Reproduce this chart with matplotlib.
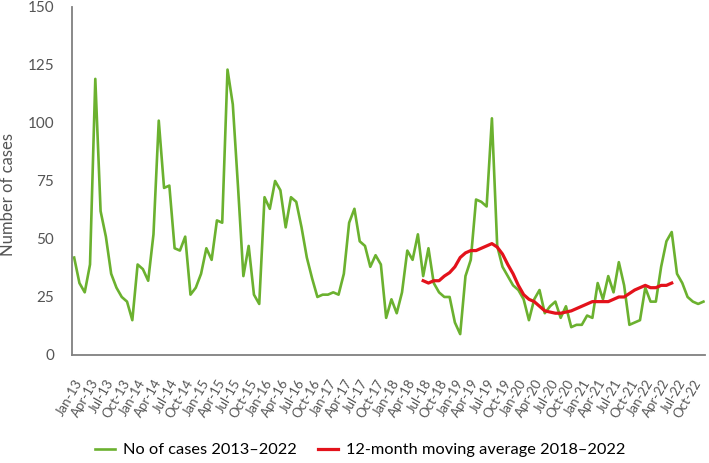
import pandas as pd
import numpy as np
import matplotlib
matplotlib.use('Agg')
import matplotlib.pyplot as plt

plt.rcParams['font.family'] = ['Lato', 'DejaVu Sans']

# monthly case counts Jan 2013 - Dec 2022
cases = [42, 31, 27, 39, 119, 62, 51, 35, 29, 25, 23, 15,
         39, 37, 32, 52, 101, 72, 73, 46, 45, 51, 26, 29,
         35, 46, 41, 58, 57, 123, 108, 72, 34, 47, 26, 22,
         68, 63, 75, 71, 55, 68, 66, 55, 42, 33, 25, 26,
         26, 27, 26, 35, 57, 63, 49, 47, 38, 43, 39, 16,
         24, 18, 27, 45, 41, 52, 34, 46, 31, 27, 25, 25,
         14, 9, 34, 41, 67, 66, 64, 102, 47, 38, 34, 30,
         28, 24, 15, 24, 28, 18, 21, 23, 16, 21, 12, 13,
         13, 17, 16, 31, 24, 34, 27, 40, 30, 13, 14, 15,
         29, 23, 23, 38, 49, 53, 35, 31, 25, 23, 22, 23]

# 12-month moving average, Jul 2018 - Jun 2022
moving_avg = [32, 31, 32, 32, 34, 35.5, 38, 42, 44, 45, 45, 46,
              47, 48, 46.5, 43.5, 39, 35, 30, 26, 24, 23, 21, 19,
              18.5, 18, 18, 18.5, 19, 20, 21, 22, 23, 23, 23, 23,
              24, 25, 25, 26.5, 28, 29, 30, 29, 29, 30, 30, 31]

months = pd.date_range('2013-01-01', '2022-12-01', freq='MS')
tick_labels = [m.strftime('%b-%y') for m in months[::3]]

x = np.arange(len(cases))
ma_start = list(months).index(pd.Timestamp('2018-07-01'))
x_ma = np.arange(ma_start, ma_start + len(moving_avg))

fig = plt.figure(figsize=(7.09, 4.63), dpi=100)
ax = fig.add_axes([0.1016, 0.2333, 0.8928, 0.7517])

ax.plot(x, cases, color='#6BB12F', lw=1.9, label='No of cases 2013\u20132022')
ax.plot(x_ma, moving_avg, color='#E3121B', lw=2.3,
        label='12-month moving average 2018\u20132022')

ax.set_xlim(-0.4, 119.3)
ax.set_ylim(0, 150)
ax.set_yticks([0, 25, 50, 75, 100, 125, 150])
ax.set_xticks(x[::3])
ax.set_xticklabels(tick_labels, rotation=60, ha='right', rotation_mode='anchor',
                   fontsize=9.5, color='#555555')
ax.tick_params(axis='y', labelsize=11, labelcolor='#555555', length=0, pad=13)
ax.tick_params(axis='x', length=0, pad=16)

for s in ['top', 'right']:
    ax.spines[s].set_visible(False)
for s in ['left', 'bottom']:
    ax.spines[s].set_color('#808080')
    ax.spines[s].set_linewidth(1.3)

ax.set_ylabel('Number of cases', fontsize=12, color='#555555')
ax.yaxis.set_label_coords(-0.088, 0.46)

fig.legend(loc='center', bbox_to_anchor=(0.508, 0.028), ncol=2, frameon=False,
           fontsize=11.8, handlelength=1.2, handletextpad=0.5, columnspacing=1.3)

fig.savefig('out.png', dpi=100)
